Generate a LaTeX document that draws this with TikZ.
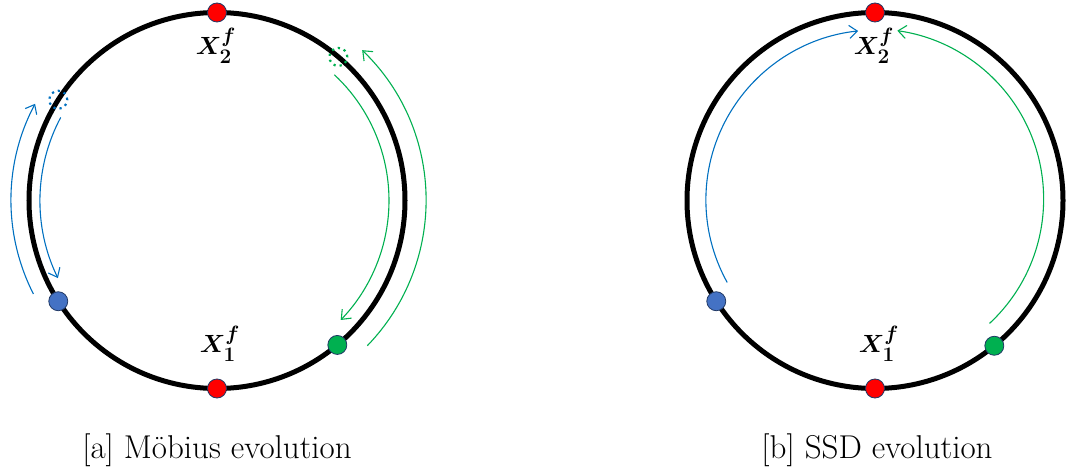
\documentclass[tikz,border=0pt]{standalone}
\usepackage{fontspec}
\usepackage{amsmath}
\usepackage{bm}
\usetikzlibrary{arrows.meta}
\definecolor{dotred}{HTML}{FF0000}
\definecolor{dotblue}{HTML}{4472C4}
\definecolor{dotgreen}{HTML}{00B050}
\definecolor{arrblue}{HTML}{0070C0}
\definecolor{rim}{HTML}{203864}

\begin{document}
\begin{tikzpicture}[x=1pt,y=1pt,
  every node/.style={font=\fontsize{33}{40}\selectfont},
  ring/.style={line width=5pt},
  bead/.style={circle,draw=rim,line width=0.8pt,minimum size=19pt,inner sep=0pt},
  ghost/.style={circle,draw,line width=2.2pt,dash pattern=on 2.2pt off 4pt,minimum size=18pt,inner sep=0pt},
  orbit/.style={line width=1.1pt,-{Straight Barb[length=8pt,width=13pt]}},
  lbl/.style={font=\fontsize{28}{33}\selectfont}]
  \useasboundingbox (-217,-270.5) rectangle (853,200.5);
  % [a] Moebius
  \draw[ring] (0,0) circle (188);
  \node[ghost,arrblue] (ghosta) at (147.6:188) {};
  \node[ghost,dotgreen] (ghostb) at (49.8:188) {};
  \draw[orbit,arrblue] (207:206) arc (207:152:206);
  \draw[orbit,arrblue] (152:177) arc (152:206:177);
  \draw[orbit,dotgreen] (47:172) arc (47:-44:172);
  \draw[orbit,dotgreen] (-44:209) arc (-44:46:209);
  \node[bead,fill=dotred] (topa) at (90:188) {};
  \node[bead,fill=dotred] (bota) at (270:188) {};
  \node[bead,fill=dotblue] (bluea) at (212.4:188) {};
  \node[bead,fill=dotgreen] (greena) at (-50.2:188) {};
  \node[lbl] (xtwoa) at (-1,155) {$\bm{X_2^f}$};
  \node[lbl] (xonea) at (3,-143) {$\bm{X_1^f}$};
  \node (capa) at (0,-249.5) {[a] Möbius evolution};
  % [b] SSD
  \begin{scope}[shift={(658,0)}]
    \draw[ring] (0,0) circle (188);
    \draw[orbit,arrblue] (209:169) arc (209:96:170);
    \draw[orbit,dotgreen] (-47:168) arc (-47:82:170);
    \node[bead,fill=dotred] (topb) at (90:188) {};
    \node[bead,fill=dotred] (botb) at (270:188) {};
    \node[bead,fill=dotblue] (blueb) at (212.4:188) {};
    \node[bead,fill=dotgreen] (greenb) at (-50.6:188) {};
    \node[lbl] (xtwob) at (-1,155) {$\bm{X_2^f}$};
    \node[lbl] (xoneb) at (4,-143) {$\bm{X_1^f}$};
    \node (capb) at (2,-249.5) {[b] SSD evolution};
  \end{scope}
\end{tikzpicture}
\end{document}
